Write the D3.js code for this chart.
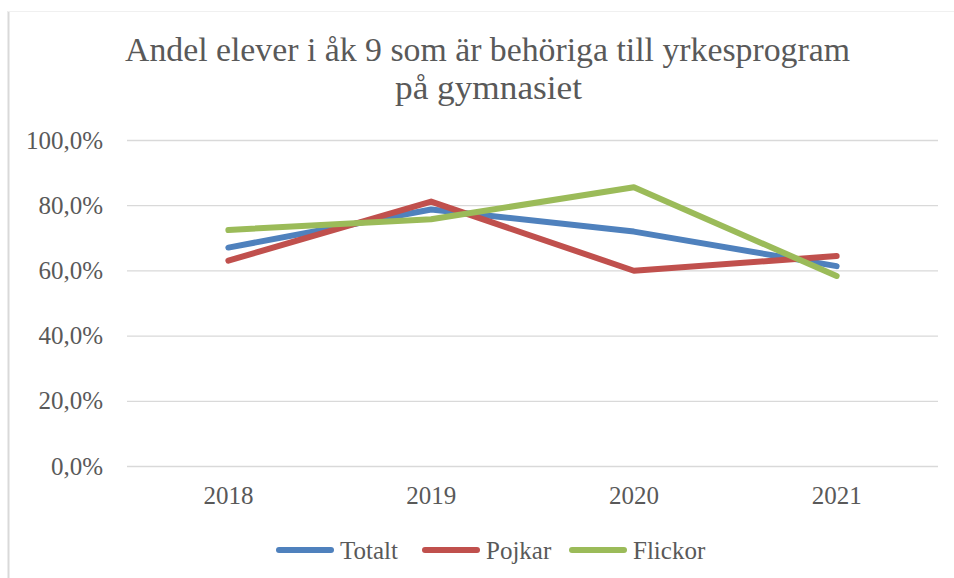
<!DOCTYPE html>
<html>
<head>
<meta charset="utf-8">
<script src="https://cdn.jsdelivr.net/npm/d3@7"></script>
<style>
  body { margin: 0; background: #fff; }
  svg { display: block; font-family: "Liberation Serif", "DejaVu Serif", serif; }
</style>
</head>
<body>
<svg width="954" height="578"></svg>
<script>
const svg = d3.select('svg')
const width = +svg.attr('width')
const height = +svg.attr('height')

// DATA
const years = ['2018', '2019', '2020', '2021']
const totalt = [67.0, 78.7, 71.9, 61.3]
const pojkar = [63.0, 81.1, 59.9, 64.4]
const flickor = [72.4, 75.7, 85.5, 58.3]
const yTicks = [0, 20, 40, 60, 80, 100]
const seriesNames = ['Totalt', 'Pojkar', 'Flickor']
const titleLines = ['Andel elever i åk 9 som är behöriga till yrkesprogram', 'på gymnasiet']

const series = [
    {name: seriesNames[0], values: totalt, color: '#4F81BD'},
    {name: seriesNames[1], values: pojkar, color: '#C0504D'},
    {name: seriesNames[2], values: flickor, color: '#9BBB59'}
]

const textColor = '#595959'
const margin = {top: 140, right: 16, bottom: 112, left: 127}

// chart border (left + faint top)
svg.append('line')
    .attr('x1', 8.5).attr('x2', 8.5).attr('y1', 11).attr('y2', height)
    .attr('stroke', '#d9d9d9').attr('stroke-width', 2)
svg.append('line')
    .attr('x1', 8).attr('x2', width).attr('y1', 11.5).attr('y2', 11.5)
    .attr('stroke', '#f0f0f0').attr('stroke-width', 1)

//SCALES
const xScale = d3.scaleBand()
    .domain(years)
    .range([margin.left, width - margin.right])

const yScale = d3.scaleLinear()
    .domain([0, 100])
    .range([height - margin.bottom, margin.top])

const fmt = v => d3.format('.1f')(v).replace('.', ',') + '%'

//GRID + Y AXIS
const yAxis = d3.axisLeft(yScale)
    .tickValues(yTicks)
    .tickFormat(fmt)
    .tickSize(-(width - margin.left - margin.right))
    .tickPadding(24)

svg.append('g')
    .attr('transform', `translate(${margin.left},0)`)
    .call(yAxis)
    .call(g => g.select('.domain').remove())
    .call(g => g.selectAll('.tick line').attr('stroke', '#d9d9d9').attr('stroke-width', 1.3))
    .call(g => g.selectAll('.tick text')
        .attr('fill', textColor)
        .style('font-size', '25px')
        .style('font-family', '"Liberation Serif", serif'))

//X AXIS
const xAxis = d3.axisBottom(xScale)
    .tickSize(0)
    .tickPadding(20)

svg.append('g')
    .attr('transform', `translate(0,${height - margin.bottom})`)
    .call(xAxis)
    .call(g => g.select('.domain').remove())
    .call(g => g.selectAll('.tick text')
        .attr('fill', textColor)
        .style('font-size', '25px')
        .style('font-family', '"Liberation Serif", serif'))

//LINES
const line = d3.line()
    .x((d, i) => xScale(years[i]) + xScale.bandwidth() / 2)
    .y(d => yScale(d))

svg.append('g')
    .selectAll('path')
    .data(series)
    .enter().append('path')
        .attr('d', d => line(d.values))
        .attr('fill', 'none')
        .attr('stroke', d => d.color)
        .attr('stroke-width', 6)
        .attr('stroke-linecap', 'round')
        .attr('stroke-linejoin', 'round')

//TITLE
svg.append('text')
    .text(titleLines[0])
    .attr('x', 125).attr('y', 61)
    .attr('textLength', 725)
    .attr('lengthAdjust', 'spacingAndGlyphs')
    .attr('fill', textColor)
    .style('font-size', '33px')
svg.append('text')
    .text(titleLines[1])
    .attr('x', 395).attr('y', 99)
    .attr('textLength', 187)
    .attr('lengthAdjust', 'spacingAndGlyphs')
    .attr('fill', textColor)
    .style('font-size', '33px')

//LEGEND
const legendX = [279, 425, 572]
const legend = svg.append('g')
    .selectAll('g')
    .data(series)
    .enter().append('g')
        .attr('transform', (d, i) => `translate(${legendX[i]},550)`)

legend.append('line')
    .attr('x1', 0).attr('x2', 52)
    .attr('stroke', d => d.color)
    .attr('stroke-width', 6)
    .attr('stroke-linecap', 'round')

legend.append('text')
    .text(d => d.name)
    .attr('x', 61)
    .attr('y', 8.5)
    .attr('fill', textColor)
    .style('font-size', '25px')
</script>
</body>
</html>
